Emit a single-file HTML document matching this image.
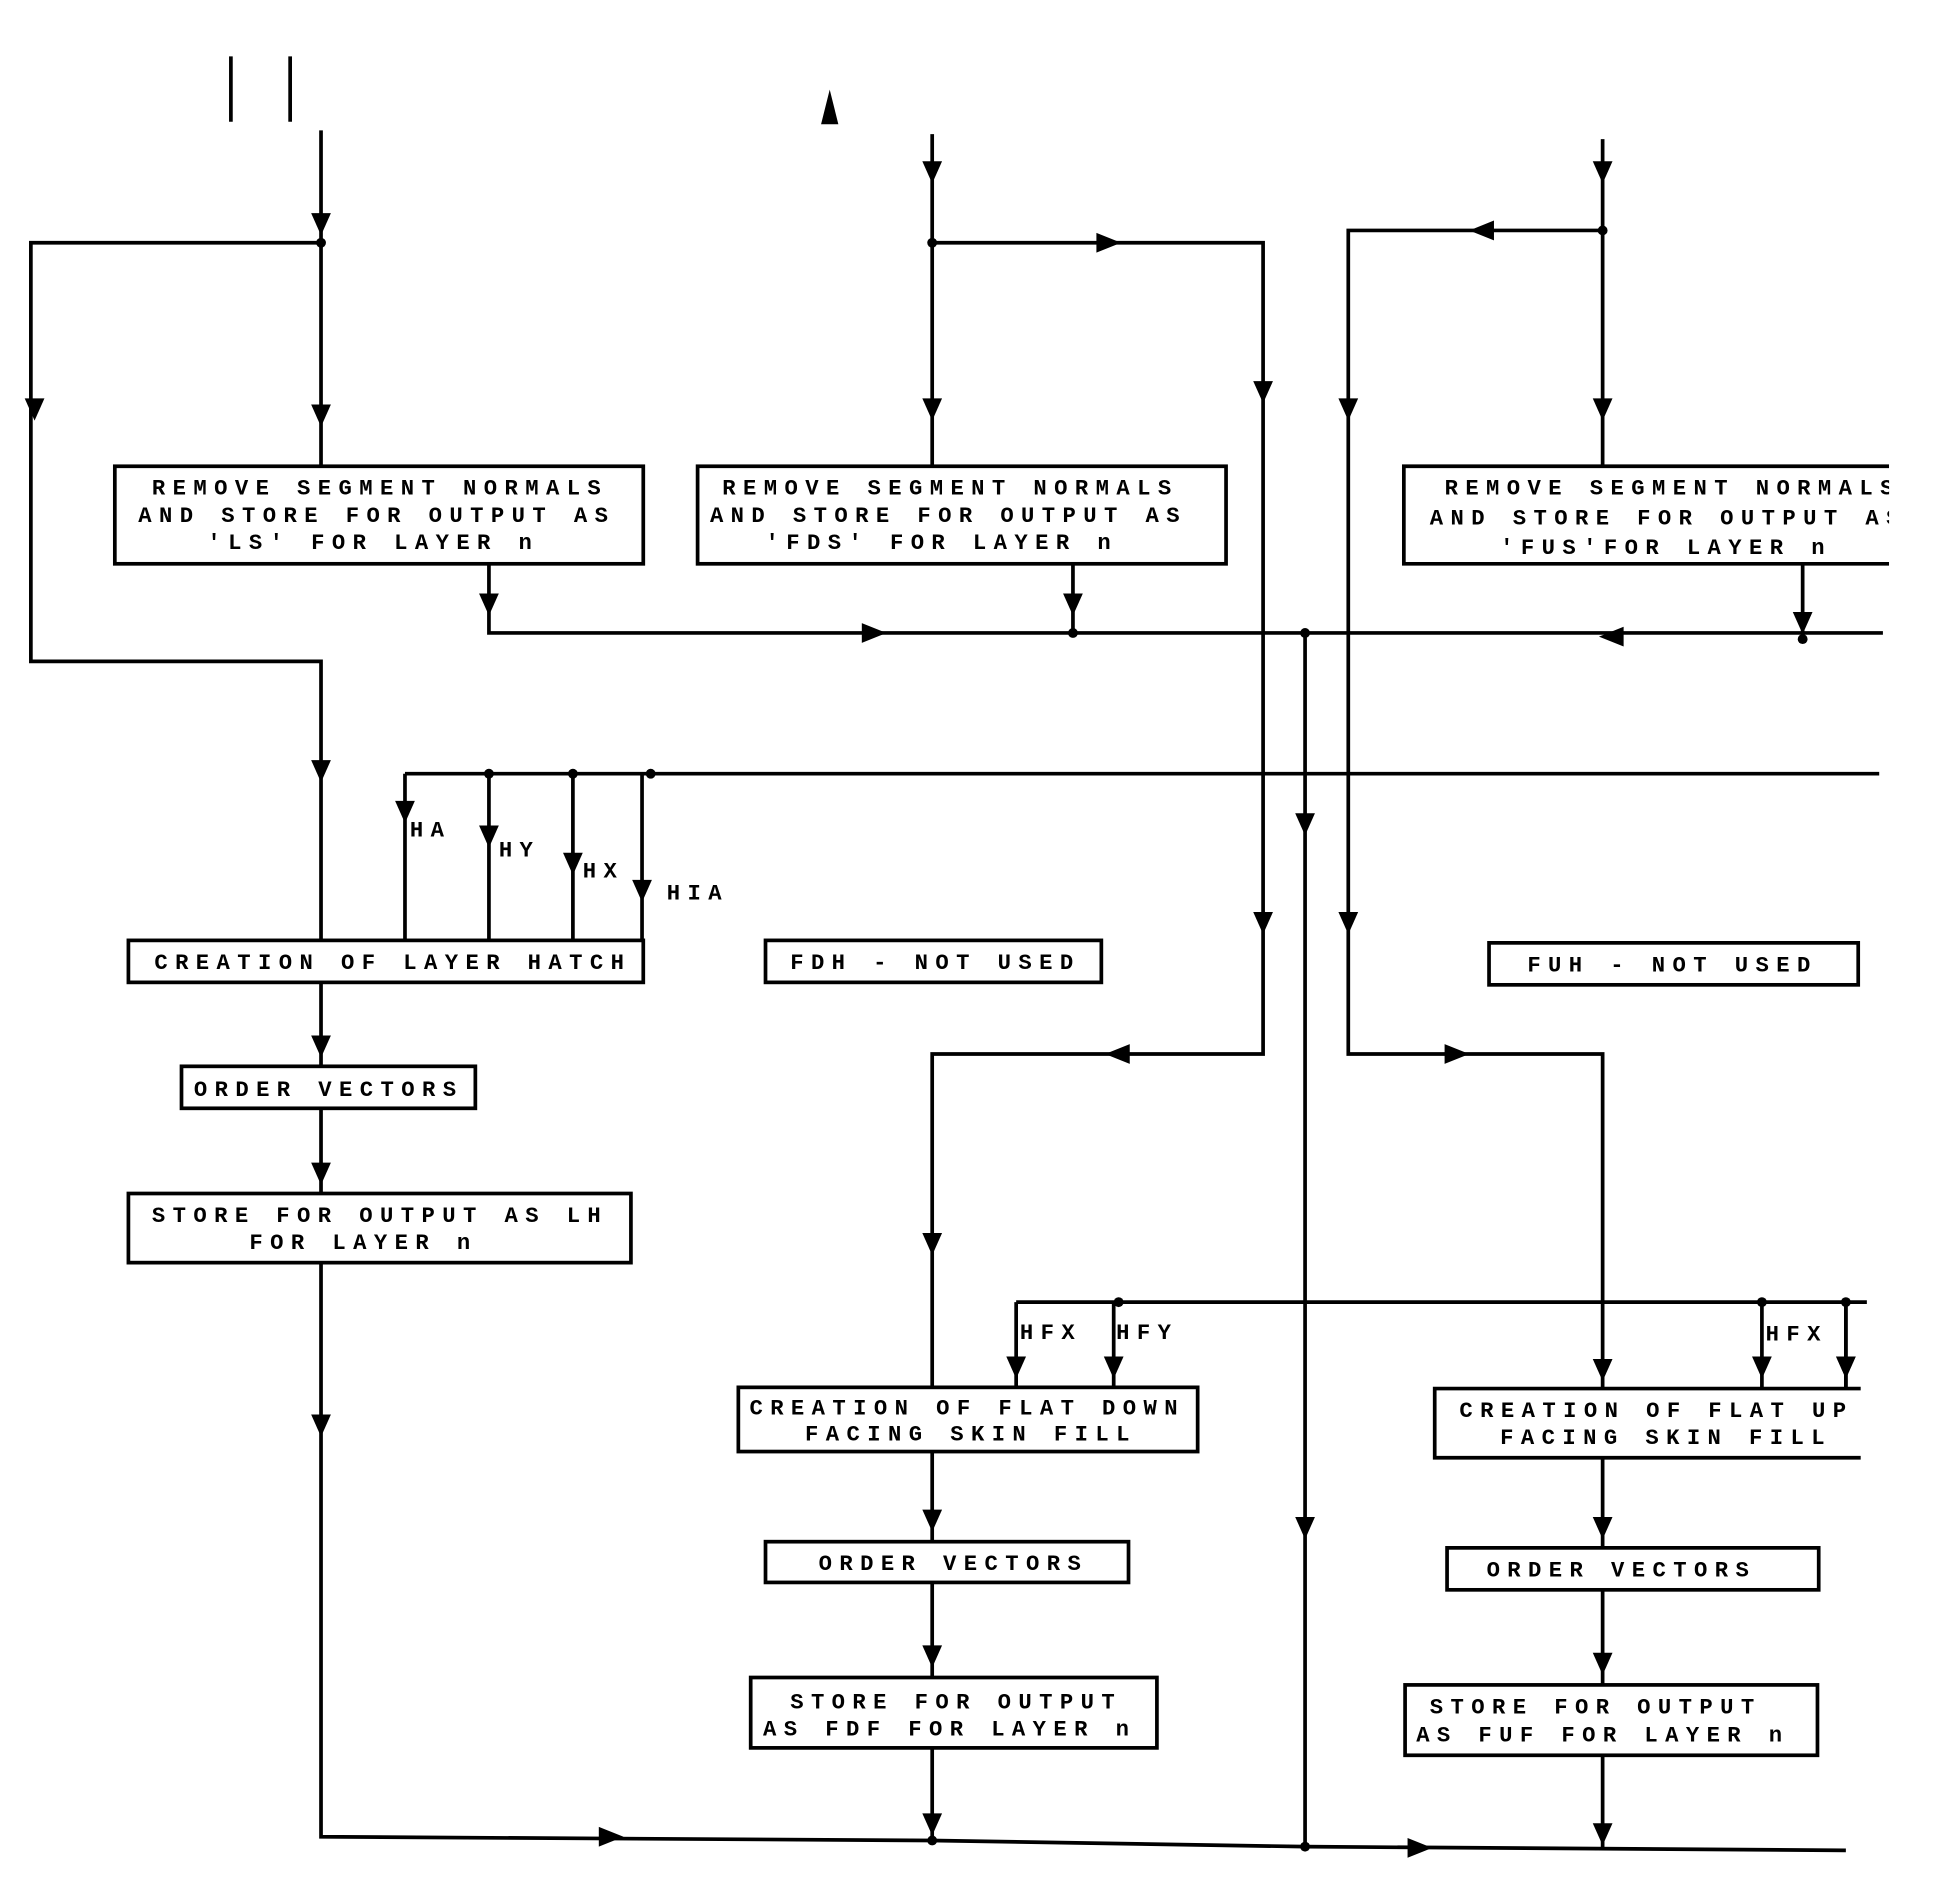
<!DOCTYPE html>
<html><head><meta charset="utf-8"><style>
html,body{margin:0;padding:0;background:#fff}
svg{display:block}
text{font-family:"Liberation Mono",monospace;font-weight:bold;font-size:18px;fill:#000;letter-spacing:6px}
</style></head><body>
<svg width="1936" height="1903" viewBox="0 0 1568 1540" xmlns="http://www.w3.org/2000/svg">
<g stroke="#000" stroke-width="3" fill="none">
<line x1="187" y1="45" x2="187" y2="98"/><line x1="235" y1="45" x2="235" y2="98"/>
<polyline points="260,105 260,377"/>
<polyline points="260,196 25,196 25,535 260,535 260,761"/>
<polyline points="396,456 396,512 1525,512"/>
<line x1="869" y1="456" x2="869" y2="512"/>
<polyline points="1460,456 1460,517"/>
<line x1="1057" y1="512" x2="1057" y2="1495"/>
<line x1="755" y1="108" x2="755" y2="377"/>
<polyline points="755,196 1023,196 1023,853 755,853 755,1123"/>
<line x1="1298" y1="112" x2="1298" y2="377"/>
<polyline points="1298,186 1092,186 1092,853 1298,853 1298,1124"/>
<line x1="328" y1="626" x2="1522" y2="626"/>
<line x1="328" y1="626" x2="328" y2="761"/>
<line x1="396" y1="626" x2="396" y2="761"/>
<line x1="464" y1="626" x2="464" y2="761"/>
<line x1="520" y1="626" x2="520" y2="761"/>
<line x1="260" y1="795" x2="260" y2="863"/>
<line x1="260" y1="897" x2="260" y2="966"/>
<polyline points="260,1022 260,1487 755,1490 1057,1495 1495,1498"/>
<line x1="823" y1="1054" x2="1512" y2="1054"/>
<line x1="823" y1="1054" x2="823" y2="1123"/>
<line x1="902" y1="1054" x2="902" y2="1123"/>
<line x1="1427" y1="1054" x2="1427" y2="1124"/>
<line x1="1495" y1="1054" x2="1495" y2="1124"/>
<line x1="755" y1="1175" x2="755" y2="1248"/>
<line x1="755" y1="1281" x2="755" y2="1358"/>
<line x1="755" y1="1415" x2="755" y2="1490"/>
<line x1="1298" y1="1180" x2="1298" y2="1253"/>
<line x1="1298" y1="1287" x2="1298" y2="1364"/>
<line x1="1298" y1="1421" x2="1298" y2="1498"/>
<rect x="93" y="377" width="428" height="79"/>
<rect x="565" y="377" width="428" height="79"/>
<polyline points="1530,377 1137,377 1137,456 1530,456"/>
<rect x="104" y="761" width="417" height="34"/>
<rect x="620" y="761" width="272" height="34"/>
<rect x="1206" y="763" width="299" height="34"/>
<rect x="147" y="863" width="238" height="34"/>
<rect x="104" y="966" width="407" height="56"/>
<rect x="598" y="1123" width="372" height="52"/>
<polyline points="1507,1124 1162,1124 1162,1180 1507,1180"/>
<rect x="620" y="1248" width="294" height="33"/>
<rect x="1172" y="1253" width="301" height="34"/>
<rect x="608" y="1358" width="329" height="57"/>
<rect x="1138" y="1364" width="334" height="57"/>
</g>
<g fill="#000">
<circle cx="260" cy="196" r="4"/><circle cx="755" cy="196" r="4"/><circle cx="1298" cy="186" r="4"/>
<circle cx="869" cy="512" r="4"/><circle cx="1057" cy="512" r="4"/><circle cx="1460" cy="517" r="4"/>
<circle cx="396" cy="626" r="4"/><circle cx="464" cy="626" r="4"/><circle cx="527" cy="626" r="4"/>
<circle cx="906" cy="1054" r="4"/><circle cx="1427" cy="1054" r="4"/><circle cx="1495" cy="1054" r="4"/>
<circle cx="755" cy="1490" r="4"/><circle cx="1057" cy="1495" r="4"/>
<polygon points="665,100 679,100 672,72"/>
<polygon points="252,172 268,172 260,190"/>
<polygon points="252,327 268,327 260,345"/>
<polygon points="20,322 36,322 28,340"/>
<polygon points="252,615 268,615 260,633"/>
<polygon points="388,480 404,480 396,498"/>
<polygon points="861,480 877,480 869,498"/>
<polygon points="1452,495 1468,495 1460,513"/>
<polygon points="747,130 763,130 755,148"/>
<polygon points="747,322 763,322 755,340"/>
<polygon points="1290,130 1306,130 1298,148"/>
<polygon points="1290,322 1306,322 1298,340"/>
<polygon points="1015,308 1031,308 1023,326"/>
<polygon points="1015,738 1031,738 1023,756"/>
<polygon points="1084,322 1100,322 1092,340"/>
<polygon points="1084,738 1100,738 1092,756"/>
<polygon points="1049,658 1065,658 1057,676"/>
<polygon points="1049,1228 1065,1228 1057,1246"/>
<polygon points="320,648 336,648 328,666"/>
<polygon points="388,668 404,668 396,686"/>
<polygon points="456,690 472,690 464,708"/>
<polygon points="512,712 528,712 520,730"/>
<polygon points="252,838 268,838 260,856"/>
<polygon points="252,941 268,941 260,959"/>
<polygon points="252,1145 268,1145 260,1163"/>
<polygon points="747,998 763,998 755,1016"/>
<polygon points="815,1098 831,1098 823,1116"/>
<polygon points="894,1098 910,1098 902,1116"/>
<polygon points="1419,1098 1435,1098 1427,1116"/>
<polygon points="1487,1098 1503,1098 1495,1116"/>
<polygon points="1290,1100 1306,1100 1298,1118"/>
<polygon points="747,1222 763,1222 755,1240"/>
<polygon points="747,1332 763,1332 755,1350"/>
<polygon points="747,1468 763,1468 755,1486"/>
<polygon points="1290,1228 1306,1228 1298,1246"/>
<polygon points="1290,1338 1306,1338 1298,1356"/>
<polygon points="1290,1476 1306,1476 1298,1494"/>
<polygon points="698,504 698,520 718,512"/>
<polygon points="888,188 888,204 908,196"/>
<polygon points="1210,178 1210,194 1190,186"/>
<polygon points="915,845 915,861 895,853"/>
<polygon points="1170,845 1170,861 1190,853"/>
<polygon points="1315,507 1315,523 1295,515"/>
<polygon points="485,1479 485,1495 505,1487"/>
<polygon points="1140,1488 1140,1504 1160,1496"/>
</g>
<g>
<text x="123" y="400">REMOVE SEGMENT NORMALS</text>
<text x="112" y="422">AND STORE FOR OUTPUT AS</text>
<text x="168" y="444">'LS' FOR LAYER n</text>
<text x="585" y="400">REMOVE SEGMENT NORMALS</text>
<text x="575" y="422">AND STORE FOR OUTPUT AS</text>
<text x="620" y="444">'FDS' FOR LAYER n</text>
<text x="1170" y="400">REMOVE SEGMENT NORMALS</text>
<text x="1158" y="424">AND STORE FOR OUTPUT AS</text>
<text x="1215" y="448">'FUS'FOR LAYER n</text>
<text x="125" y="784">CREATION OF LAYER HATCH</text>
<text x="640" y="784">FDH - NOT USED</text>
<text x="1237" y="786">FUH - NOT USED</text>
<text x="157" y="887">ORDER VECTORS</text>
<text x="123" y="989">STORE FOR OUTPUT AS LH</text>
<text x="202" y="1011">FOR LAYER n</text>
<text x="332" y="677">HA</text><text x="404" y="693">HY</text><text x="472" y="710">HX</text><text x="540" y="728">HIA</text>
<text x="826" y="1084">HFX</text><text x="904" y="1084">HFY</text><text x="1430" y="1085">HFX</text>
<text x="607" y="1145">CREATION OF FLAT DOWN</text>
<text x="652" y="1166">FACING SKIN FILL</text>
<text x="1182" y="1147">CREATION OF FLAT UP</text>
<text x="1215" y="1169">FACING SKIN FILL</text>
<text x="663" y="1271">ORDER VECTORS</text>
<text x="1204" y="1276">ORDER VECTORS</text>
<text x="640" y="1383">STORE FOR OUTPUT</text>
<text x="618" y="1405">AS FDF FOR LAYER n</text>
<text x="1158" y="1387">STORE FOR OUTPUT</text>
<text x="1147" y="1410">AS FUF FOR LAYER n</text>
</g>
<rect x="1530" y="360" width="40" height="110" fill="#fff"/>
<rect x="1508" y="1110" width="60" height="80" fill="#fff"/>
<line x1="1495" y1="1054" x2="1495" y2="1124" stroke="#000" stroke-width="3"/>
<polygon points="1487,1098 1503,1098 1495,1116" fill="#000"/>
</svg>
</body></html>
